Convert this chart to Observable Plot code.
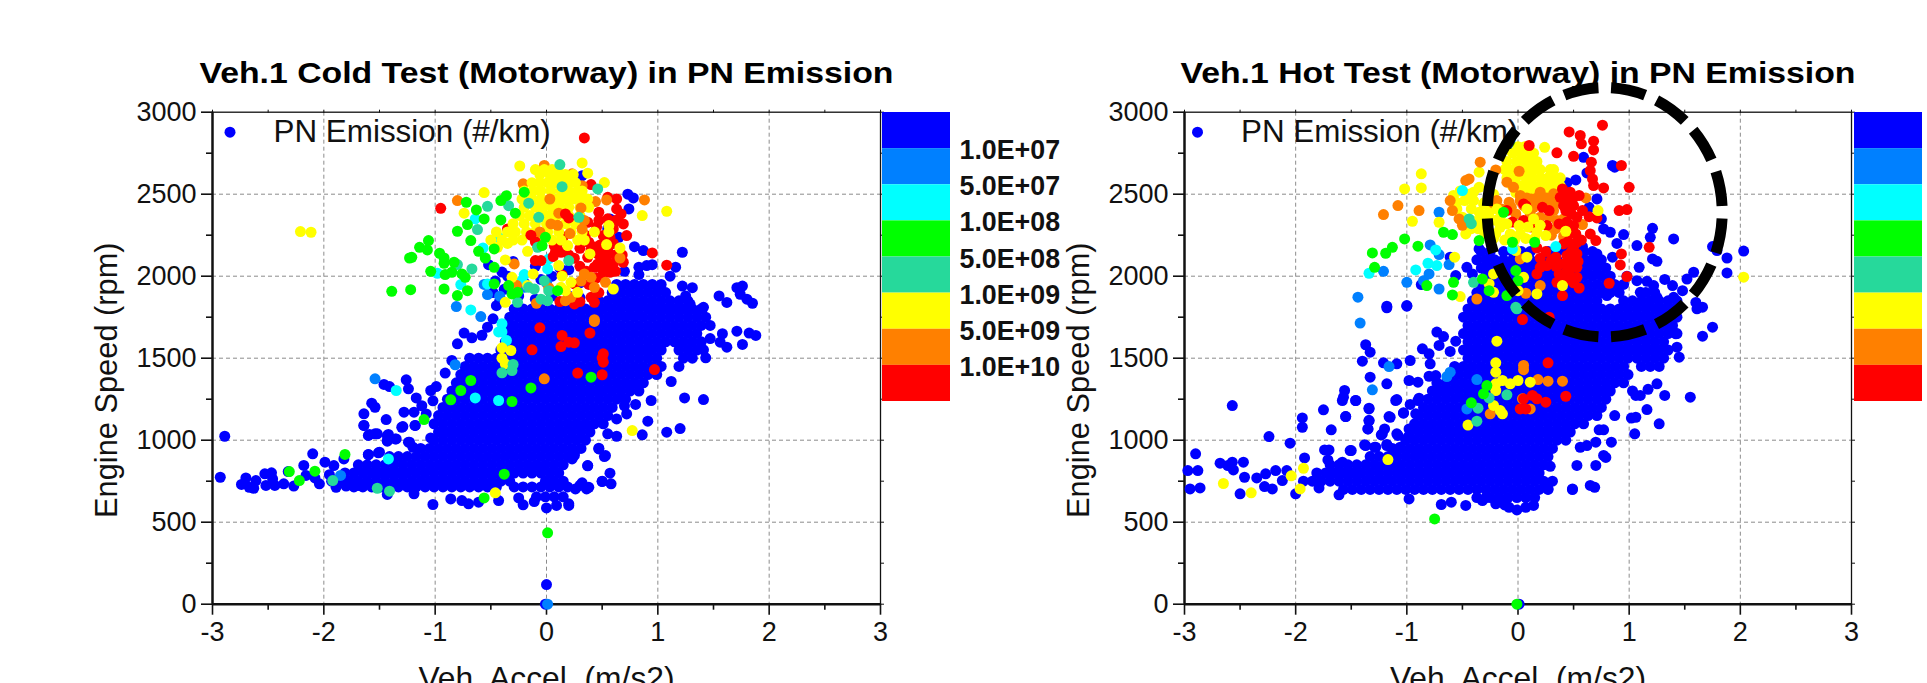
<!DOCTYPE html>
<html><head><meta charset="utf-8">
<script src="https://cdn.jsdelivr.net/npm/d3@7"></script>
<script src="https://cdn.jsdelivr.net/npm/@observablehq/plot@0.6"></script>
<style>
html,body{margin:0;padding:0;background:#fff;width:1927px;height:683px;overflow:hidden}
#stage{position:relative;width:1927px;height:683px;overflow:hidden}
#stage>svg{position:absolute;max-width:none}
</style></head><body><div id="stage"></div>
<script>
const bandColors=["#0000ff","#0080ff","#00ffff","#00ff00","#26d99b","#ffff00","#ff8000","#ff0000"];
const bandLabels=["1.0E+07","5.0E+07","1.0E+08","5.0E+08","1.0E+09","5.0E+09","1.0E+10"];
const xTicks=[-3,-2,-1,0,1,2,3];
const xMinor=[-2.5,-1.5,-0.5,0.5,1.5,2.5];
const yTicks=[0,500,1000,1500,2000,2500,3000];
const yMinor=[250,750,1250,1750,2250,2750];

// saturated blue mass, rows of [rpm,[accel...]]
const coldBlueRows=[
[1950,[.63,.71,.79,.87,.95,1.03]],
[1900,[.59,.67,.75,.83,.91,.99,1.07]],
[1850,[.47,.55,.63,.71,.79,.87,.95,1.03,1.11,1.19,1.27]],
[1800,[-.29,-.21,-.13,-.05,.03,.11,.19,.27,.35,.43,.51,.59,.67,.75,.83,.91,.99,1.07,1.15,1.23,1.31,1.39]],
[1750,[-.33,-.25,-.17,-.09,-.01,.07,.15,.23,.31,.39,.47,.55,.63,.71,.79,.87,.95,1.03,1.11,1.19,1.27,1.35,1.43]],
[1700,[-.37,-.29,-.21,-.13,-.05,.03,.11,.19,.27,.35,.43,.51,.59,.67,.75,.83,.91,.99,1.07,1.15,1.23,1.31,1.39,1.47]],
[1650,[-.33,-.25,-.17,-.09,-.01,.07,.15,.23,.31,.39,.47,.55,.63,.71,.79,.87,.95,1.03,1.11,1.19,1.27,1.35]],
[1600,[-.37,-.29,-.21,-.13,-.05,.03,.11,.19,.27,.35,.43,.51,.59,.67,.75,.83,.91,.99,1.07,1.15,1.23,1.31,1.39]],
[1550,[-.41,-.33,-.25,-.17,-.09,-.01,.07,.15,.23,.31,.39,.47,.55,.63,.71,.79,.87,.95,1.03,1.19,1.27,1.35]],
[1500,[-.69,-.61,-.53,-.45,-.37,-.29,-.21,-.13,-.05,.03,.11,.19,.27,.35,.43,.51,.59,.67,.75,.83,.91,.99,1.23,1.31]],
[1450,[-.73,-.65,-.57,-.49,-.41,-.33,-.25,-.17,-.09,-.01,.07,.15,.23,.31,.39,.47,.55,.63,.71,.79,.87,.95,1.03,1.19]],
[1400,[-.77,-.69,-.61,-.53,-.45,-.37,-.29,-.21,-.13,-.05,.03,.11,.19,.27,.35,.43,.51,.59,.67,.75,.83,.91,.99]],
[1350,[-.81,-.73,-.65,-.57,-.49,-.41,-.33,-.25,-.17,-.09,-.01,.07,.15,.23,.31,.39,.47,.55,.63,.71,.79,.87]],
[1300,[-.85,-.77,-.69,-.61,-.53,-.45,-.37,-.29,-.21,-.13,-.05,.03,.11,.19,.27,.35,.43,.51,.59,.67,.75,.83]],
[1250,[-.89,-.81,-.73,-.65,-.57,-.49,-.41,-.33,-.25,-.17,-.09,-.01,.07,.15,.23,.31,.39,.47,.55,.63,.71]],
[1200,[-.93,-.85,-.77,-.69,-.61,-.53,-.45,-.37,-.29,-.21,-.13,-.05,.03,.11,.19,.27,.35,.43,.51,.59]],
[1150,[-.97,-.89,-.81,-.73,-.65,-.57,-.49,-.41,-.33,-.25,-.17,-.09,-.01,.07,.15,.23,.31,.39,.47,.55]],
[1100,[-1.01,-.93,-.85,-.77,-.69,-.61,-.53,-.45,-.37,-.29,-.21,-.13,-.05,.03,.11,.19,.27,.35,.43,.51]],
[1050,[-.97,-.89,-.81,-.73,-.65,-.57,-.49,-.41,-.33,-.25,-.17,-.09,-.01,.07,.15,.23,.31,.39]],
[1000,[-1.01,-.93,-.85,-.77,-.69,-.61,-.53,-.45,-.37,-.29,-.21,-.13,-.05,.03,.11,.19,.27,.35]],
[950,[-1.13,-1.05,-.97,-.89,-.81,-.73,-.65,-.57,-.49,-.41,-.33,-.25,-.17,-.09,-.01,.07,.15,.23,.31]],
[900,[-1.41,-1.33,-1.25,-1.17,-1.09,-1.01,-.93,-.85,-.77,-.69,-.61,-.53,-.45,-.37,-.29,-.21,-.13,-.05,.03,.11,.19]],
[850,[-1.69,-1.61,-1.53,-1.45,-1.37,-1.29,-1.21,-1.13,-1.05,-.97,-.89,-.81,-.73,-.65,-.57,-.49,-.41,-.33,-.25,-.17,-.09,-.01,.07,.15]],
[800,[-1.81,-1.73,-1.65,-1.57,-1.49,-1.41,-1.33,-1.25,-1.17,-1.09,-1.01,-.93,-.85,-.77,-.69,-.61,-.53,-.45,-.37,-.29,-.21,-.13,-.05,.03,.11]],
[750,[-1.93,-1.85,-1.77,-1.69,-1.61,-1.53,-1.45,-1.37,-1.29,-1.21,-1.13,-1.05,-.97,-.89,-.81,-.73,-.65,-.57,-.49,-.41,-.33,-.01,.07,.15]],
[715,[-1.73,-1.65,-1.57,-1.49,-1.41,-1.33,-1.25,-1.17,-1.09,-1.01,-.93,-.85,-.77,-.69,-.61,-.53,-.45,-.29,-.21,-.13,-.05,.03,.11,.19]],
[655,[-.09,-.01,.07,.15]]
];
const coldBlue=[[-2.89,1024],[-2.93,774],[-2.74,730],[-2.7,770],[-2.67,713],[-2.61,754],[-2.63,707],[-2.53,795],[-2.47,801],[-2.52,724],[-2.44,724],[-2.46,764],[-2.36,734],[-2.27,720],[-2.32,809],[-2.18,846],[-2.1,917],[-2.16,785],[-2.04,734],[-2.08,770],[-1.99,866],[-1.91,845],[-1.82,886],[-1.89,713],[-1.8,720],[-1.85,775],[-1.95,790],[-1.69,724],[-1.6,913],[-1.51,923],[-1.64,1090],[-1.59,1035],[-1.52,1039],[-1.43,1028],[-1.43,998],[-1.35,1008],[-1.29,1083],[-1.24,988],[-1.2,957],[-1.04,1014],[-1.18,1090],[-1.02,608],[-1.43,669],[-1.19,673],
[-.86,642],[-.76,632],[-.7,612],[-.61,622],[-.43,632],[-.25,648],[-.21,606],[-.11,626],[0,587],[.09,602],[.2,602],[.26,703],[.32,740],[.38,713],[.5,748],[.37,845],[.23,886],[.25,917],[.47,947],[.53,906],
[-.74,1653],[-.67,1624],[-.8,1588],[-.53,1689],[-.58,1640],[-.48,1740],[-1.26,1368],[-1.24,1313],[-1.46,1340],[-1.41,1327],[-1.17,1258],[-1.57,1226],[-1.54,1201],[-1.64,1161],[-1.44,1126],[-1.28,1171],[-1.19,1171],[-1.3,1079],[-1.18,1090],[-1.64,1090],[-1.54,1039],[-1.6,1029],[-1.42,1035],[-1.43,994],[-1.36,1008],[-1.23,988],[-1.6,911],[-1.5,927],[-1.04,1303],[-.99,1327],[-.91,1409],[-.85,1486],[-1.08,1160],[-1.12,1210],[-1.02,1240],
[1.71,1665],[1.82,1653],[1.88,1639],[1.76,1584],[1.62,1567],[1.56,1598],[1.58,1649],[1.47,1620],[1.41,1551],[1.43,1502],[1.24,1258],[1.41,1248],[1.12,1358],[.94,1242],[.8,1218],[.7,1210],[.63,1130],[.91,1116],[.86,1033],[1.08,1049],[1.2,1071],[.63,1024],[.55,1039],[.47,951],[.52,900],[.37,844],[.57,799],[.5,750],[.58,734],[.3,724],[.36,703],[.25,907],[.2,612],[.72,1160],
[1.22,1940],[1.31,1930],[1.25,1880],[1.55,1880],[1.62,1840],[1.71,1930],[1.76,1940],[1.74,1890],[1.8,1860],[1.85,1835],[1.41,1810],[1.29,1830],
[.73,2500],[.78,2477],[.74,2410],[.79,2180],[.87,2156],[1.22,2146],[.95,2070],[.9,2065],[1.16,2055],[.83,2055],[.83,2010],[1.11,2000],[.63,2340],[.57,2349],[.65,2237],[.32,2613],[.55,2290],[.7,2030],
[-.52,2070],[-.46,1970],[-.4,2025],[-.48,1900],[-.42,1850],[-.35,2000],[-.3,2090],[-.2,1960],[-.1,2060],[-.05,1980],[.05,2000],[.2,2040],[.3,1960],[-.38,1920],[-.25,1880],[-.1,1860],[.05,1880],[.2,1880],[.3,1870],[-.45,1820],[.12,2050],
[0,120],[-.01,0]
];
const coldAzure=[[.01,0],[-1.85,785],[-.82,1460],[-1.54,1374],[-.81,1815],[-.59,1754],[-.53,1888],[-.42,1878],[-.2,1932],[-.56,1950],[.0,1960]];
const coldCyan=[[-.64,2349],[-.98,2018],[-.77,1949],[-.68,1794],[-.57,2172],[-.43,2237],[-.2,2010],[-.22,1975],[.01,2044],[.02,2105],[-.53,1953],[-.4,1710],[-.4,1660],[-.43,1660],[-.36,1608],[-1.35,1303],[-.64,1258],[-.43,1242],[-1.42,886]];
const coldRed=[[.34,2843],[-.95,2414],[.4,2559],[.55,2481],[.63,2471],[.63,2410],[.67,2380],[.69,2319],[.72,2248],[.47,2390],[.47,2340],[.37,2329],[.17,2380],[-.35,2288],[.51,2248],[.57,2237],[.38,2207],[.07,2187],[.13,2146],[.08,2146],[-.05,2095],[-.1,2095],[.37,2115],[.46,2136],[.54,2115],[.46,2075],[.6,2075],[.69,2085],[.51,2034],[.57,2024],[.43,2054],[.95,2142],[1.08,2067],[.14,2008],[.25,1953],[.4,1871],[.43,1841],[.12,1845],[.25,1831],[.3,1845],[.55,2160],[.6,2200],[.4,2160],[.3,2060],
[.45,2300],[.6,2290],[.62,2340],[.55,2350],[.35,2250],[.42,2180],[.5,2130],[.62,2130],[.68,2130],[.52,2080],[.62,2030],[.45,1990],[.5,2000],[.06,2120],[.1,2200],[.2,2130],[.25,2110],[.15,2240],[.3,2170],[.48,2190],[.56,2050],[.36,2030],[.38,1950],[.47,1900],
[-.06,1685],[.14,1639],[.2,1598],[.25,1594],[.13,1571],[-.13,1551],[.39,1653],[.51,1527],[.5,1502],[.51,1476],[.28,1409],[.5,1399],[.97,1431]];
const coldOrange=[[-.02,2675],[.23,2624],[-.21,2563],[.32,2552],[-.8,2461],[.88,2465],[.44,2455],[.54,2465],[-.29,2075],[.66,2111],[.34,2014],[.4,1993],[.31,1970],[.43,1932],[.53,1963],[.17,1851],[-.09,1835],[.22,1871],[.43,1735],[.43,1724],[-.02,1374],[.02,1930],[-.27,1945]];
const coldYellowRows=[
[2650,[-.1,-.02,.05,.1]],
[2620,[-.06,.03,.1,.17,.24]],
[2570,[-.13,-.06,.01,.08,.15,.21,.26]],
[2520,[-.2,-.12,-.05,.04,.13,.2,.28,.32]],
[2470,[-.22,-.13,-.05,.03,.1,.16,.24,.31,.37]],
[2420,[-.2,-.1,-.03,.05,.12,.2,.3,.38]],
[2370,[-.24,-.15,-.05,.02,.1,.2,.3]],
[2320,[-.3,-.2,-.1,0,.05,.17,.26]],
[2270,[-.45,-.35,-.28,-.18,-.1,.01,.11,.22,.32,.43,.56]],
[2220,[-.5,-.4,-.3,-.22,-.1,.05,.13,.28,.34]]
];
const coldYellow=[[-.24,2672],[.32,2691],[.37,2628],[.52,2571],[-.56,2510],[.86,2370],[1.08,2396],[-.74,2384],[-.44,2176],[-.35,2200],[-.17,2152],[.19,2187],[.39,2136],[.54,2193],[.66,2172],[-.37,2099],[-.12,2014],[.11,2065],[.14,2000],[-.31,1993],[-.37,1841],[-.17,1943],[.13,1932],[.17,1912],[.28,1902],[.6,1922],[.22,1963],[.56,2309],
[-.4,1563],[-.32,1547],[-.4,1500],[-.37,1466],[.77,1059],[-.46,679],[-2.21,2272],[-2.115,2268]];
const coldOrangeTop=[[.31,2416],[.11,2384],[.04,2319],[.32,2288],[.1,2310],[.34,2340],[.21,2260],[-.06,2270],[.03,2470]];
const coldRedTop=[[.17,2380],[.2,2355],[-.1,2210],[-.14,2250]];
const coldTeal=[[-.53,2426],[-.62,2284],[-.8,2071],[-.67,2044],[-.34,2430],[-.16,2445],[.12,2681],[.46,2532],[.14,2546],[-.07,2359],[.29,2359],[.2,2095],[-.08,2176],[-.16,1932],[-.26,1841],[-.11,1922],[-.02,1973],[.02,1912],[-.05,1860],[.01,1851],
[-.3,1462],[-.31,1425],[-.4,1411],[-1.52,707],[-1.41,689],[-1.92,754]];
const coldGreen=[[-1.39,1908],[-1.22,1918],[-.92,1922],[-1.04,2030],[-1.23,2111],[-1.21,2115],[-1.14,2176],[-1.06,2217],[-1.07,2160],[-.96,2140],[-.92,2111],[-.92,2079],[-.91,2010],[-.85,2024],[-.83,2085],[-.76,2014],[-.73,1993],[-.71,1912],[-.8,1882],[-.8,2274],[-.71,2315],[-.68,2217],[-.63,2404],[-.72,2451],[-.56,2349],[-.61,2152],[-.55,2111],[-.47,2054],[-.47,1953],[-.41,2461],[-.36,2491],[-.41,2343],[-.28,2384],[-.2,2512],[-.34,1943],[-.31,1892],[-.26,1902],[-.47,2166],[-.01,2237],[-.04,2187],[.1,1912],
[-.68,1364],[-.77,1303],[-.86,1246],[-1.1,1126],[-.31,1236],[-.14,1319],[.4,1384],[-.38,793],[-.56,648],[-2.31,809],[-2.22,754],[-2.08,811],[-1.81,913],[.01,435]];

const hotBlueRows=[
[2150,[-.33,-.25,-.13,-.05,.03,.11,.27,.35,.43,.59,.67]],
[2100,[-.37,-.29,-.21,-.13,-.05,.03,.11,.19,.27,.35,.59,.67,.75]],
[2050,[-.33,-.25,-.17,-.09,-.01,.07,.15,.23,.31,.39,.47,.55,.63,.71,.79]],
[2000,[-.29,-.21,-.13,-.05,.03,.11,.19,.27,.35,.43,.51,.59,.67,.75,.83]],
[1950,[-.33,-.25,-.17,-.09,-.01,.07,.15,.23,.31,.39,.47,.55,.63,.71,.79,.87]],
[1900,[-.37,-.29,-.21,-.13,-.05,.03,.11,.19,.27,.35,.43,.51,.59,.67,.75,.83,.91,1.15,1.23]],
[1850,[-.41,-.33,-.25,-.17,-.09,-.01,.07,.15,.23,.31,.39,.47,.55,.63,.71,.95,1.03,1.11,1.19,1.27,1.35,1.43]],
[1800,[-.45,-.37,-.29,-.21,-.13,-.05,.03,.11,.19,.27,.35,.43,.51,.59,.67,.75,.83,.91,.99,1.07,1.15,1.23,1.31,1.39]],
[1750,[-.49,-.41,-.33,-.25,-.17,-.09,-.01,.07,.15,.23,.31,.39,.47,.55,.63,.71,.79,.87,.95,1.03,1.11,1.19,1.27,1.35,1.43]],
[1700,[-.45,-.37,-.29,-.21,-.13,-.05,.03,.11,.19,.27,.35,.43,.51,.59,.67,.75,.83,.91,.99,1.07,1.15,1.23,1.31,1.39]],
[1650,[-.49,-.41,-.33,-.25,-.17,-.09,-.01,.07,.15,.23,.31,.39,.47,.55,.63,.71,.79,.87,.95,1.03,1.11,1.19,1.27,1.35,1.43]],
[1600,[-.45,-.37,-.29,-.21,-.13,-.05,.03,.11,.19,.27,.35,.43,.51,.59,.67,.75,.83,.91,.99,1.07,1.15,1.23,1.31]],
[1550,[-.49,-.41,-.33,-.25,-.17,-.09,-.01,.07,.15,.23,.31,.39,.47,.55,.63,.71,.79,.87,.95,1.03,1.11,1.19,1.27,1.35]],
[1500,[-.45,-.37,-.29,-.21,-.13,-.05,.03,.11,.19,.27,.35,.43,.51,.59,.67,.75,.83,.91,.99,1.07,1.15,1.23,1.31]],
[1450,[-.57,-.49,-.41,-.33,-.25,-.17,-.09,-.01,.07,.15,.23,.31,.39,.47,.55,.63,.71,.79,.87,.95,1.11,1.19,1.27]],
[1400,[-.61,-.53,-.45,-.37,-.29,-.21,-.13,-.05,.03,.11,.19,.27,.35,.43,.51,.59,.67,.75,.83,.91,.99]],
[1350,[-.73,-.65,-.57,-.49,-.41,-.33,-.25,-.17,-.09,-.01,.07,.15,.23,.31,.39,.47,.55,.63,.71,.79,.87,.95]],
[1300,[-.77,-.69,-.61,-.53,-.45,-.37,-.29,-.21,-.13,-.05,.03,.11,.19,.27,.35,.43,.51,.59,.67,.75,.83]],
[1250,[-.81,-.73,-.65,-.57,-.49,-.41,-.33,-.25,-.17,-.09,-.01,.07,.15,.23,.31,.39,.47,.55,.63,.71,.79]],
[1200,[-.85,-.77,-.69,-.61,-.53,-.45,-.37,-.29,-.21,-.13,-.05,.03,.11,.19,.27,.35,.43,.51,.59,.67,.75]],
[1150,[-.89,-.81,-.73,-.65,-.57,-.49,-.41,-.33,-.25,-.17,-.09,-.01,.07,.15,.23,.31,.39,.47,.55,.63,.71]],
[1100,[-.93,-.85,-.77,-.69,-.61,-.53,-.45,-.37,-.29,-.21,-.13,-.05,.03,.11,.19,.27,.35,.43,.51,.59]],
[1050,[-.97,-.89,-.81,-.73,-.65,-.57,-.49,-.41,-.33,-.25,-.17,-.09,-.01,.07,.15,.23,.31,.39,.47]],
[1000,[-1.01,-.93,-.85,-.77,-.69,-.61,-.53,-.45,-.37,-.29,-.21,-.13,-.05,.03,.11,.19,.27,.35,.43]],
[950,[-1.13,-1.05,-.97,-.89,-.81,-.73,-.65,-.57,-.49,-.41,-.33,-.25,-.17,-.09,-.01,.07,.15,.23,.31]],
[900,[-1.33,-1.25,-1.17,-1.09,-1.01,-.93,-.85,-.77,-.69,-.61,-.53,-.45,-.37,-.29,-.21,-.13,-.05,.03,.11,.19,.27]],
[850,[-1.69,-1.61,-1.53,-1.45,-1.37,-1.29,-1.21,-1.13,-1.05,-.97,-.89,-.81,-.73,-.65,-.57,-.49,-.41,-.33,-.25,-.17,-.09,-.01,.07,.15,.23]],
[800,[-1.81,-1.73,-1.65,-1.57,-1.49,-1.41,-1.33,-1.25,-1.17,-1.09,-1.01,-.93,-.85,-.77,-.69,-.61,-.53,-.45,-.37,-.29,-.21,-.13,-.05,.03,.11,.19]],
[750,[-1.93,-1.85,-1.77,-1.69,-1.61,-1.53,-1.45,-1.37,-1.29,-1.21,-1.13,-1.05,-.97,-.89,-.81,-.73,-.65,-.57,-.49,-.41,-.33,-.25,-.17,-.09,-.01,.07,.15,.23,.31]],
[700,[-1.57,-1.49,-1.41,-1.33,-1.25,-1.17,-1.09,-1.01,-.93,-.85,-.77,-.69,-.61,-.53,-.45,-.37,-.29,-.21,-.13,-.05,.03,.11,.19,.27]],
[650,[-.37,-.29,-.25,-.17,-.09,-.01,.07,.15]]
];
const hotBlue=[[-2.57,1211],[-2.24,1022],[-2.05,982],[-2.9,917],[-2.68,860],[-2.57,866],[-2.47,866],[-2.61,845],[-2.56,819],[-2.97,815],[-2.88,815],[-2.95,703],[-2.86,709],[-2.46,774],[-2.5,673],[-2.35,770],[-2.27,795],[-2.28,717],[-2.21,703],[-2.18,815],[-2.08,815],[-2.12,754],[-2,673],[-1.92,892],[-1.94,1079],[-1.94,1136],[-1.75,1185],[-1.68,1063],[-1.55,1144],[-1.34,1191],[-1.34,1120],[-1.35,1069],[-1.16,1144],[-1.74,941],[-1.7,941],[-1.71,880],[-1.51,937],[-1.61,667],[-1.79,709],[-1.58,866],[-1.37,967],[-1.28,957],[-1.18,967],[-1.06,957],[-.91,937],[-1.22,1039],[-1.08,1029],[-.98,1069],[-1.03,1165],[-.92,1161],[-1.46,1242],[-1.58,1242],[-1.1,1242],[-.9,1242],
[-.98,642],[-.69,608],[-.6,622],[-.47,602],[-.32,632],[-.2,612],[-.08,591],[-.01,575],[.07,591],[.14,602],[.27,703],[.49,703],[-.12,605],
[-1.18,1807],[-1,1817],[-.73,1659],[-.67,1632],[-.71,1578],[-.56,1604],[-1.37,1582],[-1.33,1537],[-1.4,1482],[-.86,1557],[-.8,1527],[-.61,1541],[-.97,1486],[-1.09,1466],[-1.21,1472],[-.79,1466],[-1.33,1384],[-1.18,1344],[-.98,1364],[-.9,1354],[-.8,1390],[-.74,1394],[-1.56,1303],[-1.57,1262],[-1.46,1242],[-1.09,1248],[-.89,1256],[-1.34,1195],[-.97,1218],[-1.03,1167],[-1.55,1144],[-1.34,1120],[-1.35,1069],[-1.15,1140],[-1.2,1069],[-1.23,1033],[-1.09,1039],[-.99,1018],[-1.38,972],[-1.29,957],[-1.18,974],[-1.5,937],
[1.66,1634],[1.75,1689],[1.61,1801],[1.66,1811],[1.42,1649],[1.43,1567],[1.45,1506],[1.32,1273],[1.55,1262],[1.16,1187],[1.27,1100],[1.06,1140],[1.02,1135],[1.05,1039],[.87,1150],[.73,1063],[.77,1063],[.84,988],[.7,988],[.62,967],[.56,957],[.77,907],[.79,895],[.7,846],[.53,846],[.29,841],[.49,699],[.65,724],[.69,713],[.26,713],[1.06,1273],[1.1,1273],[1.25,1344],[1.17,1310],[1.03,1300],
[.85,2675],[.87,2665],[.59,2725],[.52,2587],[.62,2630],[.44,2570],[.71,2471],[.64,2420],[.75,2350],[.77,2288],[.83,2268],[.95,2254],[1.21,2292],[1.19,2237],[1.4,2227],[1.07,2187],[.89,2200],[.71,2136],[.85,2116],[1.21,2105],[1.25,2091],[1.09,2054],[.98,2000],[1.07,1973],[1.16,1969],[1.75,2181],[1.88,2111],[1.88,2020],[1.58,2024],[1.52,1983],[1.48,1912],[1.39,1943],[1.22,1943],[1.25,1871],[1.4,1871],[1.1,1902],[.8,1882],[-.35,2166],[-.61,2116],[-.46,2054],[-.56,2004],[-.41,2014],[-.87,1949],[-1.18,1817],[-1,1821],[.62,2095],[.58,2180],[1.79,2156],[2.03,2153],[1.32,1980],[1.6,1840],[.95,1950],
[.01,0]
];
const hotAzure=[[-1.44,1872],[-1,1963],[-1.21,2030],[-.71,2390],[-.71,1922],[-.79,2191],[-.71,2132],[-.62,2071],[-.8,2014],[-.85,1973],[-.37,1370],[-.46,1191],[-1.16,1449],[-.61,1415],[-.64,1388],[-1.31,1307],[-1.42,1714]];
const hotYellowRows=[
[2790,[0,.06,.1]],
[2750,[-.05,.03,.09,.14]],
[2700,[-.1,-.01,.05,.11,.17]],
[2650,[-.12,-.05,.03,.08,.14,.2,.29,.32]],
[2600,[-.1,-.02,.07,.13,.2,.27,.33,.38]],
[2550,[-.05,.02,.08,.14,.2,.26,.32,.38]],
[2510,[-.02,.05,.12,.2,.28,.34]]
];
const hotYellow=[[.24,2786],[-.87,2624],[-.87,2538],[-1.02,2532],[-.95,2335],[-.71,2329],[-.35,2634],[-.58,2492],[-.48,2461],[-.55,2410],[-.4,2461],[-.4,2512],[-.47,2258],[-.35,2542],[-.35,2390],[-.31,2441],[-.25,2400],[-.2,2340],[-.3,2290],
[-.52,2520],[-.45,2500],[-.55,2450],[-.42,2410],[-.5,2360],[-.42,2340],[-.35,2340],[-.3,2450],[-.22,2500],[-.25,2450],[-.28,2380],[-.36,2290],[-.2,2260],[-.42,2290]];
const hotOrange=[[-.34,2695],[-1.21,2376],[-1.08,2431],[-.89,2400],[-.47,2583],[-.44,2593],[-.2,2648],[.01,2640],[-.1,2573],[-.04,2542],[.02,2492],[.08,2477],[.17,2477],[.26,2477],[.32,2502],[.2,2512],[-.08,2451],[-.19,2461],[-.61,2461],[-.59,2400],[-.53,2349],[-.06,2420],[.11,2380],[.32,2400],[.35,2339],[.41,2349],[.41,2242],[.58,2315],[.61,2477],[.2,1943],[.07,1896],[-.37,1861],[.02,2105],[.02,2460],
[.12,2470],[.05,2430],[.14,2420],[.22,2440],[.3,2450],[.36,2450],[.28,2360],[.2,2360],[-.02,2380],[.34,2290],[.3,2250],[-.15,2410],[-.22,2445],[-.5,2310],
[.05,1456],[.05,1430],[.18,1370],[.27,1360],[.4,1360],[-.25,1161],[.11,1191],[.04,1252]];
const hotRed=[[.76,2921],[.46,2880],[.56,2858],[.57,2807],[.68,2823],[.68,2770],[.35,2752],[.5,2731],[.93,2675],[.66,2695],[.65,2644],[.67,2593],[.68,2553],[.77,2538],[1,2542],[.91,2400],[.98,2406],[.4,2532],[.47,2512],[.38,2481],[.44,2471],[.5,2481],[.55,2492],[.41,2431],[.5,2431],[.53,2359],[.64,2363],[.71,2355],[.5,2309],[.52,2258],[.53,2207],[.5,2176],[.65,2258],[.7,2217],[.93,2136],[.92,2069],[1.18,2176],[.98,1998],[.82,1957],[.55,1928],[.53,1993],[.53,2054],[.53,2136],[.44,2126],[.34,2116],[.41,2197],[.38,2075],[.37,2014],[.35,1963],[.26,2065],[.2,2054],[.17,2014],[.4,1882],[.28,2400],[.22,2420],[.07,2430],[.05,2339],[.17,2172],[.05,2441],[.26,2309],[.37,2319],[.47,2004],[.47,2054],[.1,2797],
[.42,2500],[.46,2450],[.43,2400],[.48,2380],[.44,2330],[.47,2260],[.45,2210],[.48,2150],[.43,2080],[.48,2100],[.44,2030],[.42,1970],[.5,1960],[.3,2100],[.25,2150],[.2,2110],[.34,2060],[.54,2090],[.57,2220],[.58,2400],[.12,2300],[-.05,2330],[-.1,2400],
[.27,1472],[.43,1268],[.25,1232],[.13,1273],[.17,1252],[.05,1252],[.02,1191],[.07,1191],[.04,1736],[.28,1750]];
const hotYellowTop=[[-.16,2359],[-.1,2319],[-.16,2298],[-.07,2258],[.02,2258],[.08,2410],[.14,2349],[.01,2309],[.25,2248],[.17,2268],[-.19,2410],[.09,2300],[-.25,2350],[-.3,2260],[-.12,2220],[-.22,2230],[-.03,2220],[.07,2230],[.15,2230],[.2,2310],
[.72,2400],[.43,2274],[-.57,2116],[.4,1943],[.08,2116],[-.02,2156],[-.26,1953],[-.22,1902],[-.52,1876],[.05,1993],[.17,1892],[0,1912],[-.22,2014],[2.03,1994],
[-.19,1604],[-.2,1472],[-.2,1415],[-.14,1364],[-.2,1344],[-.2,1303],[-.07,1344],[0,1364],[.11,1354],[-.22,1212],[-.16,1181],[-.14,1161],[-.45,1092],[-1.17,882],[-1.93,829],[-2.04,783],[-1.96,703],[-2.65,736],[-2.4,679]];
const hotCyan=[[-1.34,2018],[-.92,2038],[-.81,2079],[-.73,2065],[-.74,2160],[-.5,2522],[-.05,2166],[.34,2181]];
const hotTeal=[[-.44,2349],[-.42,2320],[-.4,1963],[-.02,1810],[-.01,1801],[-.1,1277],[-.26,1258],[-.36,1195],[-.37,1116]];
const hotGreen=[[-1.02,2227],[-.9,2183],[-1.13,2176],[-1.19,2140],[-1.31,2142],[-1.29,2054],[-.82,1943],[-.67,2268],[-.59,2254],[-.58,1963],[-.59,1886],[-.32,1983],[-.02,2034],[.15,2207],[-.13,2390],[-.05,2207],[-.26,1912],[-.1,1882],[0,1973],[-.35,2217],[-.28,1333],[-.31,1283],[-.42,1228],[-.75,520],[-.01,0]];

// dashed ring annotation on the hot panel
const ringCentre=[[.78,2390]];
const ringAxes=[117.5,124.7];
const ringSymbol={draw(c){const [a,b]=ringAxes,k=.5523;
  c.moveTo(a,0);c.bezierCurveTo(a,k*b,k*a,b,0,b);c.bezierCurveTo(-k*a,b,-a,k*b,-a,0);
  c.bezierCurveTo(-a,-k*b,-k*a,-b,0,-b);c.bezierCurveTo(k*a,-b,a,-k*b,a,0);c.closePath();}};

const flat=r=>r.flatMap(([y,xs])=>xs.map(x=>[x,y]));
const FONT="'Liberation Sans',Arial,sans-serif";
const ink="#111";
const R=5.5;
const dots=(pts,fill)=>Plot.dot(pts,{x:d=>d[0],y:d=>d[1],r:R,fill,stroke:"none"});

function panel({left,width,marginLeft,marginRight,title,titleWidth,legendDx,layers,extra=[]}){
  const fig=Plot.plot({
    width,height:683,marginLeft,marginRight,marginTop:111.7,marginBottom:79.3,
    style:{background:"transparent",fontFamily:FONT,color:ink,overflow:"visible"},
    x:{domain:[-3,3],axis:null},y:{domain:[0,3000],axis:null},
    marks:[
      Plot.gridX(xTicks.slice(1,-1),{stroke:"#8c8c8c",strokeOpacity:1,strokeDasharray:"4 3",strokeWidth:1}),
      Plot.gridY(yTicks.slice(1,-1),{stroke:"#8c8c8c",strokeOpacity:1,strokeDasharray:"4 3",strokeWidth:1}),
      Plot.frame({stroke:ink,strokeWidth:1.3}),
      Plot.axisX({ticks:xTicks,tickSize:11,tickPadding:7,fontSize:27,tickFormat:String,label:null,stroke:ink,strokeWidth:1.6}),
      Plot.axisX({ticks:xMinor,tickSize:6,tickFormat:()=>"",label:null,stroke:ink,strokeWidth:1.6}),
      Plot.axisY({ticks:yTicks,tickSize:11,tickPadding:5,fontSize:27,tickFormat:String,label:null,stroke:ink,strokeWidth:1.6}),
      Plot.axisY({ticks:yMinor,tickSize:6,tickFormat:()=>"",label:null,stroke:ink,strokeWidth:1.6}),
      Plot.axisX({anchor:"top",ticks:[...xTicks,...xMinor],tickSize:3,tickFormat:()=>"",label:null,stroke:ink}),
      Plot.axisY({anchor:"right",ticks:[...yTicks,...yMinor],tickSize:3,tickFormat:()=>"",label:null,stroke:ink}),
      Plot.ruleX([-3],{stroke:ink,strokeWidth:2.4}),
      Plot.ruleY([0],{stroke:ink,strokeWidth:2.4}),
      ...layers,
      Plot.dot(["PN Emission (#/km)"],{frameAnchor:"top-left",dx:legendDx,dy:20,r:R,fill:bandColors[0]}),
      Plot.text(["PN Emission (#/km)"],{frameAnchor:"top-left",dx:legendDx+43.5,dy:20,text:d=>d,textAnchor:"start",lineAnchor:"middle",fontSize:31.4,fill:ink}),
      Plot.text([title],{frameAnchor:"top",dy:-29,text:d=>d,lineAnchor:"bottom",fontSize:30,fontWeight:"bold",fill:"#000"}),
      Plot.text(["Engine Speed (rpm)"],{frameAnchor:"left",dx:-105,dy:22,text:d=>d,rotate:-90,textAnchor:"middle",fontSize:30.8,fill:ink}),
      Plot.text(["Veh. Accel. (m/s2)"],{frameAnchor:"bottom",dy:85,text:d=>d,lineAnchor:"bottom",fontSize:31.8,fill:ink}),
      ...extra
    ]});
  fig.style.left=left+"px";fig.style.top="0";
  fig.querySelectorAll("text").forEach(t=>{if(t.textContent===title){t.setAttribute("textLength",titleWidth);t.setAttribute("lengthAdjust","spacingAndGlyphs");}});
  document.getElementById("stage").append(fig);
}

function colorbar({left,labels}){
  const bands=bandColors.map((c,i)=>({i,c}));
  const fig=Plot.plot({
    width:labels.length?190:68,height:289,marginTop:0,marginBottom:0,marginLeft:0,marginRight:labels.length?122:0,
    style:{background:"transparent",fontFamily:FONT,overflow:"visible"},
    x:{domain:[0,1],axis:null},y:{domain:[8,0],axis:null},
    marks:[
      Plot.rect(bands,{x1:()=>0,x2:()=>1,y1:d=>d.i,y2:d=>d.i+1,fill:d=>d.c,stroke:"none",inset:0}),
      Plot.text(labels,{x:()=>1,y:(d,i)=>i+1,text:d=>d,dx:9,dy:2,textAnchor:"start",lineAnchor:"middle",fontSize:26.8,fontWeight:"bold",fill:"#111"})
    ]});
  fig.style.left=left+"px";fig.style.top="111.7px";
  document.getElementById("stage").append(fig);
}

panel({left:0,width:960,marginLeft:212,marginRight:80,legendDx:17.5,titleWidth:694,
  title:"Veh.1 Cold Test (Motorway) in PN Emission",
  layers:[dots(flat(coldBlueRows),bandColors[0]),dots(coldBlue,bandColors[0]),dots(coldAzure,bandColors[1]),dots(coldCyan,bandColors[2]),
    dots(coldRed,bandColors[7]),dots(coldOrange,bandColors[6]),dots(flat(coldYellowRows),bandColors[5]),dots(coldYellow,bandColors[5]),
    dots(coldOrangeTop,bandColors[6]),dots(coldRedTop,bandColors[7]),
    dots(coldTeal,bandColors[4]),dots(coldGreen,bandColors[3])]});
panel({left:960,width:967,marginLeft:224,marginRight:76,legendDx:13,titleWidth:675,
  title:"Veh.1 Hot Test (Motorway) in PN Emission",
  layers:[dots(flat(hotBlueRows),bandColors[0]),dots(hotBlue,bandColors[0]),dots(hotAzure,bandColors[1]),
    dots(flat(hotYellowRows),bandColors[5]),dots(hotYellow,bandColors[5]),dots(hotOrange,bandColors[6]),dots(hotRed,bandColors[7]),
    dots(hotYellowTop,bandColors[5]),dots(hotCyan,bandColors[2]),dots(hotTeal,bandColors[4]),dots(hotGreen,bandColors[3])],
  extra:[Plot.dot(ringCentre,{x:d=>d[0],y:d=>d[1],symbol:ringSymbol,r:100,fill:"none",stroke:"#000",strokeWidth:11,strokeDasharray:"35 12.56",strokeDashoffset:41.3})]});
colorbar({left:881.7,labels:bandLabels});
colorbar({left:1853.7,labels:[]});
</script></body></html>
